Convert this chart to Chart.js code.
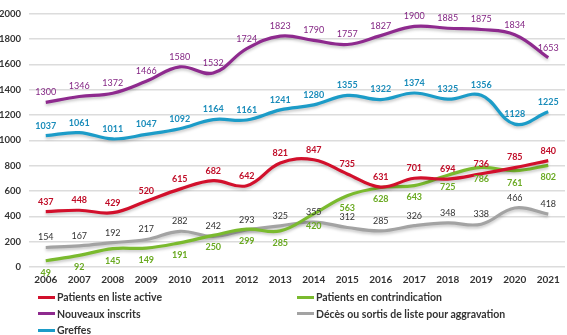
<!DOCTYPE html>
<html>
<head>
<meta charset="utf-8">
<script src="https://cdn.jsdelivr.net/npm/chart.js@4/dist/chart.umd.min.js"></script>
<style>
  html, body { margin: 0; padding: 0; background: #fff; }
  #wrap { position: relative; width: 567px; height: 335px; }
  #box { position: absolute; left: 0; top: 0; width: 567px; height: 290px; }
  #legend {
    position: absolute; left: 38px; top: 289px;
    display: grid; grid-template-columns: 259px 259px; grid-auto-rows: 16.5px;
    font-family: Lato, "Open Sans", sans-serif; font-weight: bold; font-size: 10.5px; color: #333;
  }
  #legend .item { display: flex; align-items: center; white-space: nowrap; }
  #legend .sw { width: 17px; height: 3px; margin-right: 2px; }
</style>
</head>
<body>
<div id="wrap">
  <div id="box"><canvas id="c"></canvas></div>
  <div id="legend"></div>
</div>
<script>
const years = ['2006','2007','2008','2009','2010','2011','2012','2013','2014','2015','2016','2017','2018','2019','2020','2021'];

const listeActive    = [437, 448, 429, 520, 615, 682, 642, 821, 847, 735, 631, 701, 694, 736, 785, 840];
const contrindication = [49, 92, 145, 149, 191, 250, 299, 285, 420, 563, 628, 643, 725, 786, 761, 802];
const nouveauxInscrits = [1300, 1346, 1372, 1466, 1580, 1532, 1724, 1823, 1790, 1757, 1827, 1900, 1885, 1875, 1834, 1653];
const decesSorties   = [154, 167, 192, 217, 282, 242, 293, 325, 355, 312, 285, 326, 348, 338, 466, 418];
const greffes        = [1037, 1061, 1011, 1047, 1092, 1164, 1161, 1241, 1280, 1355, 1322, 1374, 1325, 1356, 1128, 1225];

const FONT = 'Lato, "Open Sans", sans-serif';

function series(label, data, color, lbl) {
  return {
    label, data,
    borderColor: color, backgroundColor: color,
    borderWidth: 3.2, tension: 0.4, pointRadius: 0, fill: false,
    lbl
  };
}

// value labels drawn next to each point (above or below the line)
const valueLabels = {
  id: 'valueLabels',
  afterDatasetsDraw(chart) {
    const ctx = chart.ctx;
    chart.data.datasets.forEach((ds, i) => {
      const meta = chart.getDatasetMeta(i);
      const o = ds.lbl;
      ctx.save();
      ctx.font = (o.bold ? 'bold ' : '') + o.size + 'px ' + FONT;
      ctx.fillStyle = o.color;
      ctx.textAlign = 'center';
      ctx.textBaseline = 'middle';
      meta.data.forEach((pt, j) => {
        ctx.fillText(String(ds.data[j]), pt.x, pt.y + o.dy);
      });
      ctx.restore();
    });
  }
};

// soft shadow under each line
const lineShadow = {
  id: 'lineShadow',
  beforeDatasetDraw(chart) {
    const ctx = chart.ctx;
    ctx.save();
    ctx.shadowColor = 'rgba(0,0,0,0.22)';
    ctx.shadowBlur = 3;
    ctx.shadowOffsetY = 2;
  },
  afterDatasetDraw(chart) {
    chart.ctx.restore();
  }
};

const chart = new Chart(document.getElementById('c'), {
  type: 'line',
  data: {
    labels: years,
    datasets: [
      series('Patients en liste active', listeActive, '#d2102c', { color: '#c00d28', bold: true, size: 9, dy: -10 }),
      series('Patients en contrindication', contrindication, '#7aba2e', { color: '#6aaa22', bold: true, size: 9, dy: 12 }),
      series('Nouveaux inscrits', nouveauxInscrits, '#8e2a8e', { color: '#842684', bold: false, size: 9, dy: -10 }),
      series('Décès ou sortis de liste pour aggravation', decesSorties, '#a3a3a3', { color: '#333333', bold: false, size: 9, dy: -10 }),
      series('Greffes', greffes, '#1c9cc8', { color: '#1a8cba', bold: true, size: 9, dy: -10 })
    ]
  },
  options: {
    responsive: true,
    maintainAspectRatio: false,
    animation: false,
    layout: { padding: { top: 3, right: 2, left: 0, bottom: 0 } },
    plugins: { legend: { display: false }, tooltip: { enabled: false } },
    scales: {
      x: {
        offset: true,
        grid: { display: false, drawTicks: false },
        border: { display: false },
        ticks: { color: '#333', font: { family: FONT, weight: 'bold', size: 10 }, padding: 7, maxRotation: 0 },
        afterFit(s) { s.height = 23; }
      },
      y: {
        min: 0, max: 2000,
        ticks: {
          stepSize: 200, color: '#333', font: { family: FONT, weight: 'bold', size: 9.5 }, padding: 8,
          callback: v => String(v)
        },
        grid: { color: '#dcdcdc', lineWidth: 1.5, drawTicks: false },
        border: { display: false },
        afterFit(s) { s.width = 29; }
      }
    }
  },
  plugins: [lineShadow, valueLabels]
});

// legend in two columns, built from the datasets
const leg = document.getElementById('legend');
chart.data.datasets.forEach(ds => {
  const item = document.createElement('div');
  item.className = 'item';
  const sw = document.createElement('span');
  sw.className = 'sw';
  sw.style.background = ds.borderColor;
  const tx = document.createElement('span');
  tx.textContent = ds.label;
  item.appendChild(sw);
  item.appendChild(tx);
  leg.appendChild(item);
});
</script>
</body>
</html>
